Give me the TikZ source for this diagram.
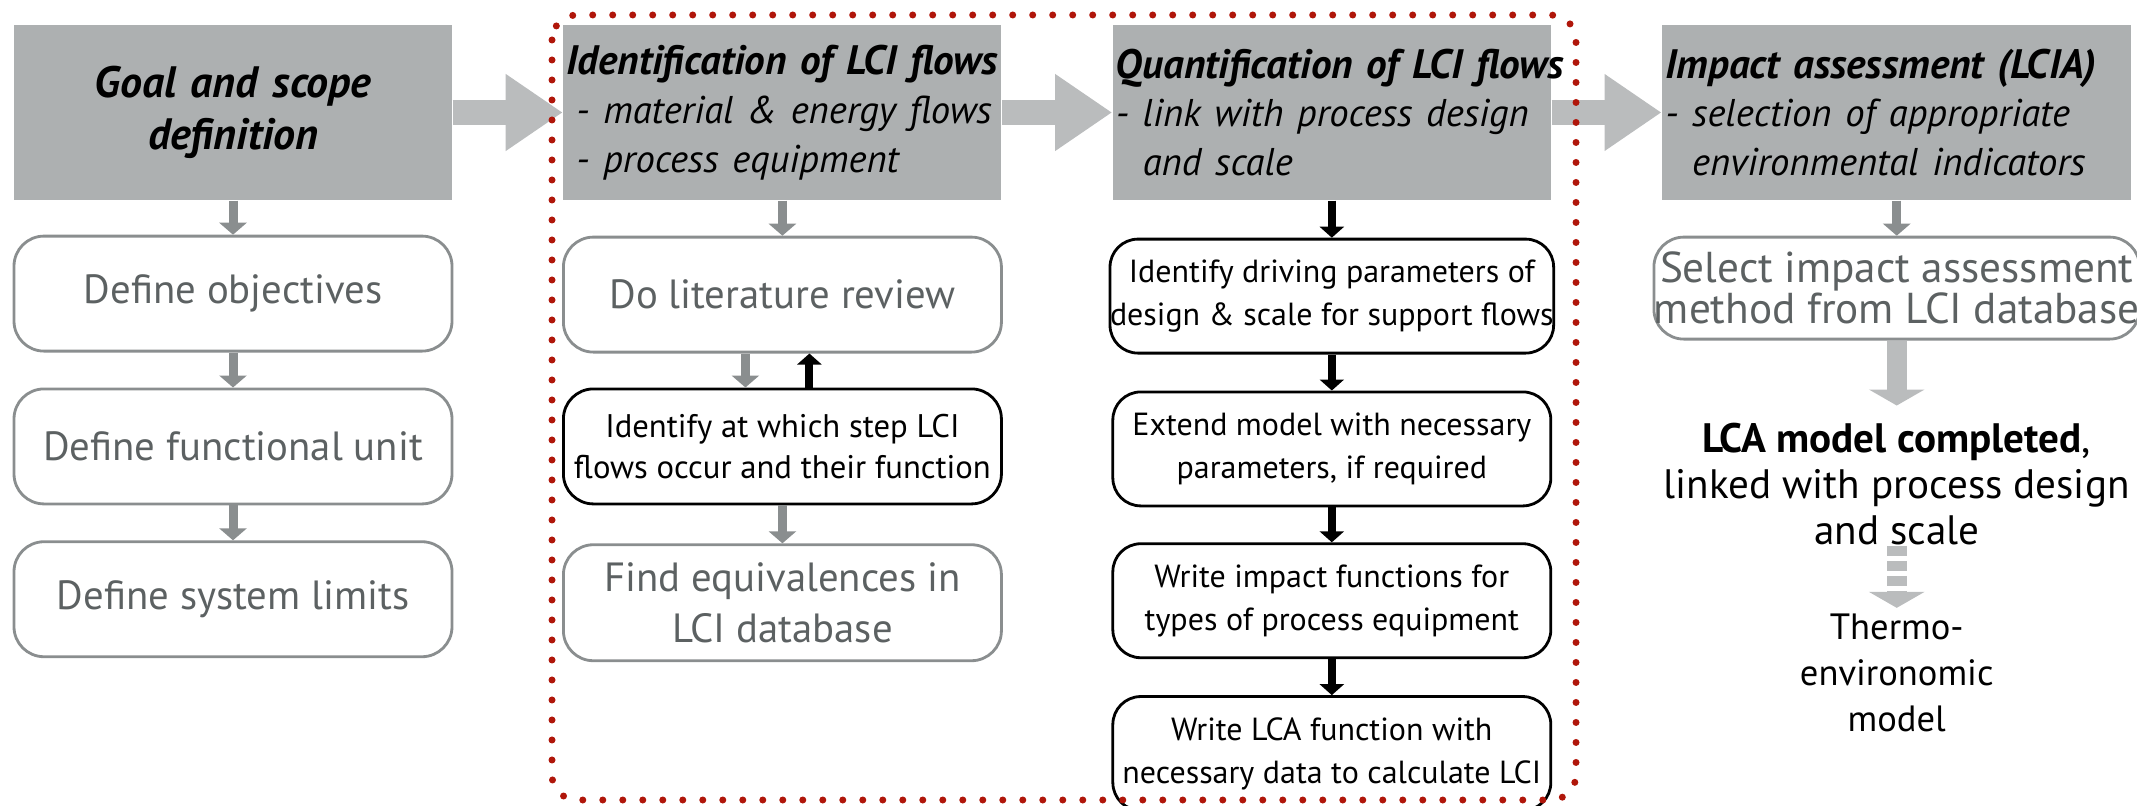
\documentclass[tikz,border=0pt]{standalone}
\usepackage{fontspec}
\setmainfont{PT Sans}
\usetikzlibrary{arrows.meta}
\usetikzlibrary{positioning}

\definecolor{headgray}{RGB}{173,176,177}
\definecolor{flowgray}{RGB}{186,188,189}
\definecolor{linegray}{RGB}{138,142,143}
\definecolor{textgray}{RGB}{92,97,98}
\definecolor{framered}{RGB}{176,22,10}

% sub-points of a phase header: upright weight, slightly smaller
\newcommand{\subpoints}{\mdseries\fontsize{11}{13.9}\selectfont}

\begin{document}
\begin{tikzpicture}[
            node distance=0.35cm and 1.1cm,
            header/.style={rectangle, fill=headgray, minimum height=1.75cm, text width=4.32cm, inner xsep=0.03cm, inner ysep=0pt, align=left, font=\fontsize{11.7}{13.9}\selectfont\bfseries\itshape},
            task/.style={rectangle, draw=linegray, line width=0.8pt, rounded corners=0.3cm, minimum width=4.38cm, minimum height=1.15cm, inner sep=0pt, align=center, text=textgray, font=\fontsize{11.6}{14.5}\selectfont},
            black_task/.style={task, draw=black, text=black, font=\fontsize{9.3}{11.6}\selectfont},
            model_task/.style={task, draw=black, text=black, rounded corners=0.28cm, minimum height=1.14cm, font=\fontsize{9.1}{12.2}\selectfont},
            outcome/.style={inner sep=0pt, align=center, text=black},
            big_arrow/.style={-{Triangle[length=5.7mm, width=7.3mm]}, line width=2.5mm, flowgray},
            down_arrow/.style={-{Triangle[length=1.6mm, width=5.5mm]}, line width=2mm, flowgray},
            flow_arrow/.style={-{Triangle[length=1.2mm, width=2.7mm]}, line width=0.9mm, linegray},
            black_arrow/.style={-{Triangle[length=1.1mm, width=2.4mm]}, line width=0.8mm, black},
            loop_frame/.style={framered, line width=0.07cm, line cap=round, dash pattern=on 0pt off 0.2cm, rounded corners=0.25cm}
        ]
        \useasboundingbox (0,0) rectangle (21.37,-8.06);

        % Phase headers
        \node[header, align=center, font=\fontsize{12.5}{15}\selectfont\bfseries\itshape] (goal_head) at (2.33,-1.125) {Goal and scope\\definition};
        \node[header, right=1.10cm of goal_head] (ident_head) {\mbox{Identification of LCI flows}\\\subpoints\mbox{\hspace*{0.1cm}- material \& energy flows}\\\mbox{\hspace*{0.1cm}- process equipment}};
        \node[header, right=1.10cm of ident_head] (quant_head) {\mbox{Quantification of LCI flows}\\\subpoints\mbox{- link with process design}\\\mbox{\phantom{- }and scale}};
        \node[header, right=1.10cm of quant_head, text width=4.63cm] (impact_head) {\mbox{Impact assessment (LCIA)}\\\subpoints\mbox{- selection of appropriate}\\\mbox{\phantom{- }environmental indicators}};

        % Goal and scope steps
        \node[task, below=0.34cm of goal_head] (def_objectives) {Define objectives};
        \node[task, below=of def_objectives] (def_unit) {Define functional unit};
        \node[task, below=of def_unit] (def_limits) {Define system limits};

        % Identification steps
        \node[task, below=of ident_head] (lit_review) {Do literature review};
        \node[black_task, below=0.34cm of lit_review] (which_step) {Identify at which step LCI\\flows occur and their function};
        \node[task, below=0.38cm of which_step, minimum height=1.16cm] (find_equiv) {Find equivalences in\\LCI database};

        % Quantification steps
        \node[model_task, below=0.37cm of quant_head] (driving_params) {Identify driving parameters of\\design \& scale for support flows};
        \node[model_task, below=0.36cm of driving_params] (extend_model) {Extend model with necessary\\parameters, if required};
        \node[model_task, below=0.35cm of extend_model] (impact_funcs) {Write impact functions for\\types of process equipment};
        \node[model_task, below=0.36cm of impact_funcs] (lca_func) {Write LCA function with\\necessary data to calculate LCI};

        % Impact assessment and result
        \node[task, below=of impact_head, minimum width=4.64cm, minimum height=1.02cm, font=\fontsize{12.3}{11.6}\selectfont] (select_method) {Select impact assessment\\method from LCI database};
        \node[outcome, below=0.82cm of select_method, font=\fontsize{11.7}{13.1}\selectfont] (lca_done) {\textbf{LCA model completed},\\linked with process design\\and scale};
        \node[outcome, below=0.67cm of lca_done, font=\fontsize{10.4}{13.1}\selectfont] (thermo_model) {Thermo-\\environomic\\model};

        % Arrows between phases
        \draw[big_arrow] (goal_head.east) -- (ident_head.west);
        \draw[big_arrow] (ident_head.east) -- (quant_head.west);
        \draw[big_arrow] (quant_head.east) -- (impact_head.west);

        % Vertical arrows (goal and scope)
        \draw[flow_arrow] (goal_head.south) -- (def_objectives.north);
        \draw[flow_arrow] (def_objectives.south) -- (def_unit.north);
        \draw[flow_arrow] (def_unit.south) -- (def_limits.north);

        % Vertical arrows (identification)
        \draw[flow_arrow] (ident_head.south) -- (lit_review.north);
        \draw[flow_arrow] ([xshift=-0.37cm]lit_review.south) -- ([xshift=-0.37cm]which_step.north);
        \draw[black_arrow] ([xshift=0.27cm]which_step.north) -- ([xshift=0.27cm]lit_review.south);
        \draw[flow_arrow] (which_step.south) -- (find_equiv.north);

        % Vertical arrows (quantification)
        \draw[black_arrow] (quant_head.south) -- (driving_params.north);
        \draw[black_arrow] (driving_params.south) -- (extend_model.north);
        \draw[black_arrow] (extend_model.south) -- (impact_funcs.north);
        \draw[black_arrow] (impact_funcs.south) -- (lca_func.north);

        % Vertical arrows (impact assessment)
        \draw[flow_arrow] (impact_head.south) -- (select_method.north);
        \draw[down_arrow, shorten >=0.17cm] (select_method.south) -- (lca_done.north);
        \draw[down_arrow, dash pattern=on 0.1cm off 0.05cm, shorten >=0.05cm] (lca_done.south) -- (thermo_model.north);

        % Frame round identification and quantification
        \draw[loop_frame] (5.52,-0.15) rectangle (15.76,-8.00);
    \end{tikzpicture}
\end{document}
